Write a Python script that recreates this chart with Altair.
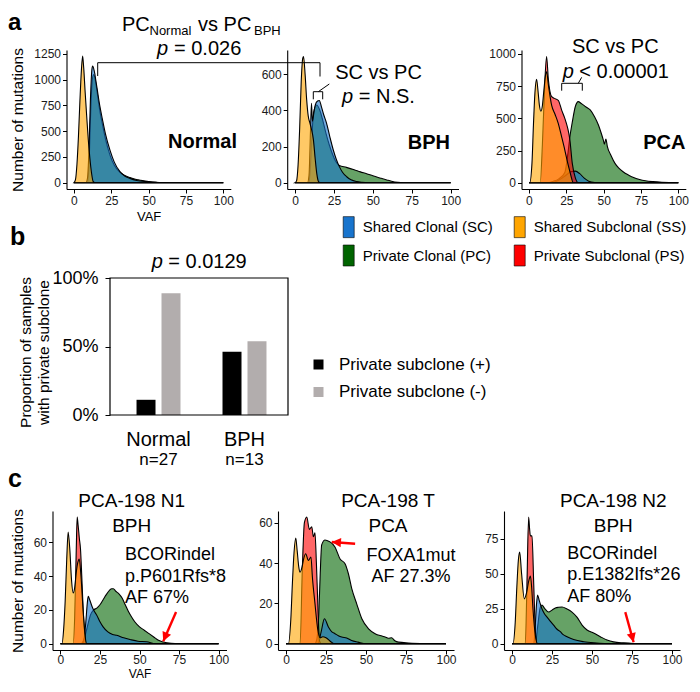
import altair as alt
import pandas as pd

FONT = "Liberation Sans"

# ---------------- shared categories (legend fills column-wise) ----------------
CLONES = ["Shared Clonal (SC)", "Private Clonal (PC)", "Shared Subclonal (SS)", "Private Subclonal (PS)"]
CLONE_COLORS = ["#1874CD", "#006400", "#FFA500", "#FF0000"]
DRAW_ORDER = ["Private Clonal (PC)", "Shared Clonal (SC)", "Private Subclonal (PS)", "Shared Subclonal (SS)"]
SC, PC, SS, PS = CLONES
VAF_TICKS = [0, 25, 50, 75, 100]

# ---------------- panel a : Normal ----------------
NORMAL_SS_VAF = [0, 1, 2, 3, 4, 5, 5.8, 6.5, 7.4, 8.5, 9.6, 10.7, 11.8, 12.9, 14, 100]
NORMAL_SS_N = [0, 30, 180, 450, 800, 1100, 1230, 1120, 900, 650, 415, 230, 90, 10, 0, 0]
NORMAL_SC_VAF = [0, 8, 9, 10, 11, 12, 12.5, 13.5, 15, 17.4, 19, 21, 24.1, 27, 30.8, 34, 37.5, 42, 48.7, 55, 60, 100]
NORMAL_SC_N = [0, 0, 40, 300, 800, 1100, 1133, 1090, 960, 738, 620, 480, 316, 200, 107, 65, 42, 22, 10, 3, 0, 0]
NORMAL_PC_VAF = [0, 9, 10, 11, 12, 13, 14, 15, 17.4, 19, 21, 24.1, 27, 30.8, 34, 37.5, 40, 43, 46, 50, 55, 60, 70, 100]
NORMAL_PC_N = [0, 0, 150, 600, 950, 1050, 1020, 930, 690, 570, 430, 268, 170, 100, 70, 50, 38, 28, 20, 12, 5, 2, 0, 0]

# ---------------- panel a : BPH ----------------
BPH_SS_VAF = [0, 1, 2, 3, 4, 5, 5.5, 6.5, 7.5, 8.5, 9.6, 10.5, 11.8, 13, 14, 15, 16, 100]
BPH_SS_N = [0, 10, 100, 300, 560, 690, 698, 600, 460, 370, 330, 300, 240, 130, 50, 8, 0, 0]
BPH_SC_VAF = [0, 8, 9, 10, 10.6, 11.2, 12, 13, 14.5, 15.6, 17, 18.5, 20.3, 22.5, 24.6, 26.5, 28.5, 30.5, 33.2, 36, 39.6, 43, 47, 100]
BPH_SC_N = [0, 0, 40, 300, 440, 340, 380, 430, 452, 455, 420, 375, 329, 250, 181, 130, 89, 58, 33, 16, 6, 2, 0, 0]
BPH_PC_VAF = [0, 9, 10, 11, 12, 13.9, 16, 18, 20, 22, 24, 26, 28.5, 33, 38, 42, 46, 50, 55, 59, 62, 66, 70, 100]
BPH_PC_N = [0, 0, 100, 280, 390, 430, 400, 340, 270, 210, 160, 120, 95, 85, 72, 60, 50, 38, 25, 15, 8, 2, 0, 0]

# ---------------- panel a : PCA ----------------
PCA_SS_VAF = [0, 0.5, 2, 3, 4, 5.1, 6, 7, 8, 9, 10, 11, 11.8, 13, 15.2, 17.5, 19.6, 22, 24, 26, 27.4, 28.5, 29.6, 100]
PCA_SS_N = [0, 0, 150, 450, 700, 803, 720, 600, 555, 600, 720, 830, 862, 760, 600, 530, 461, 350, 254, 150, 86, 35, 0, 0]
PCA_PS_VAF = [0, 7.5, 9, 10.5, 11.8, 13, 15.2, 17, 19.6, 22, 24, 26, 27.4, 29, 31, 33, 100]
PCA_PS_N = [0, 0, 300, 750, 980, 800, 668, 655, 640, 560, 500, 420, 332, 150, 40, 0, 0]
PCA_SC_VAF = [0, 15, 20, 25, 28, 31, 34, 37, 40, 44, 48, 100]
PCA_SC_N = [0, 0, 20, 60, 85, 90, 70, 35, 12, 2, 0, 0]
PCA_PC_VAF = [0, 12, 16, 20, 24, 26, 27.4, 29, 31, 33, 35, 38, 41, 44, 46.5, 48.5, 49.8, 50.5, 51.5, 52.5,
              55, 57.6, 60, 63, 66.5, 70, 74, 78, 83, 89, 95, 100]
PCA_PC_N = [0, 0, 10, 30, 80, 220, 357, 470, 590, 630, 615, 590, 565, 510, 448, 380, 330, 300, 340, 280,
            210, 150, 115, 85, 60, 40, 25, 15, 8, 3, 1, 0]

# ---------------- panel b ----------------
B_GROUP = ["Normal", "Normal", "BPH", "BPH"]
B_STATUS = ["Private subclone (+)", "Private subclone (-)", "Private subclone (+)", "Private subclone (-)"]
B_PROP = [0.111, 0.889, 0.462, 0.538]
B_GROUP_ORDER = ["Normal", "BPH"]
B_STATUS_ORDER = ["Private subclone (+)", "Private subclone (-)"]
B_STATUS_COLORS = ["#000000", "#B2ADAD"]
B_N_GROUP = ["Normal", "BPH"]
B_N_TEXT = ["n=27", "n=13"]

# ---------------- panel c : PCA-198 N1 ----------------
N1_SS_VAF = [0, 1, 2, 3, 4, 4.9, 6, 7, 8.1, 9, 10, 11, 11.9, 13, 14.4, 15.5, 16.5, 100]
N1_SS_N = [0, 0, 8, 25, 50, 66, 55, 38, 30, 33, 42, 48, 50, 40, 19, 6, 0, 0]
N1_PS_VAF = [0, 8, 9, 10, 10.6, 11.2, 12, 12.7, 13.5, 14.4, 15.5, 16.5, 100]
N1_PS_N = [0, 0, 15, 55, 74.8, 70, 62, 56, 40, 20, 5, 0, 0]
N1_SC_VAF = [0, 14, 15, 16, 17, 17.6, 18.5, 20, 21.5, 22.9, 25, 27, 30, 33, 35.6, 40, 44, 49, 54.6, 60, 100]
N1_SC_N = [0, 0, 3, 12, 24, 28, 26, 22, 19, 17, 13, 10, 7, 5.5, 5, 3.5, 2.5, 1.5, 1.2, 0, 0]
N1_PC_VAF = [0, 13, 15, 17, 19, 21, 23, 25, 27, 29, 31, 32.4, 33.5, 35, 37, 39, 41, 43, 45, 47, 50, 53, 56,
             59, 62, 65, 70, 80, 100]
N1_PC_N = [0, 0, 3, 10, 17, 20, 21, 23, 26, 29, 31.5, 32.5, 32.5, 31, 29.5, 27, 23, 19, 15.8, 13, 10, 8, 6,
           4, 2, 1, 0.3, 0, 0]
N1_ARROW = {"tail_vaf": [73.1], "tail_n": [18.7], "head_vaf": [65], "head_n": [1.4], "angle": [203]}

# ---------------- panel c : PCA-198 T ----------------
T_SS_VAF = [0, 1.5, 3, 4, 5, 6.1, 7, 8, 8.8, 10, 11, 12.3, 14, 15.6, 16.5, 18.1, 19.8, 21.3, 23, 25, 28, 30, 100]
T_SS_N = [0, 0, 12, 30, 45, 52.4, 46, 38, 35.5, 38, 42, 44.6, 41.3, 43, 33, 20, 7.4, 3, 3.5, 3, 1, 0, 0]
T_PS_VAF = [0, 8.8, 10.2, 11.5, 13, 14.6, 16.1, 17.1, 18.1, 19, 19.8, 20.9, 22, 100]
T_PS_N = [0, 0, 37, 60, 62.8, 56.7, 58, 53, 55, 40, 21.7, 1.5, 0, 0]
T_SC_VAF = [0, 20, 22, 24, 26.5, 28.5, 30.6, 32.7, 34.8, 37.9, 41, 45, 50, 100]
T_SC_N = [0, 0, 6, 12.4, 8.3, 6, 5, 4, 3.3, 2.8, 1.6, 0.8, 0, 0]
T_PC_VAF = [0, 18, 19.2, 20.5, 21.4, 22.3, 24.4, 26, 27.5, 30.6, 33.8, 36.9, 39, 41.1, 44.2, 47.4, 51.6,
            55.7, 60, 62, 64, 66, 68, 70.3, 76.6, 87, 100]
T_PC_N = [0, 0, 2, 15, 35, 49, 51.4, 51, 50.5, 48, 42, 39.7, 34.7, 27.3, 19.8, 12.4, 7.4, 5, 3.8, 3.3,
          2.7, 3, 1.5, 0.8, 0.4, 0.1, 0]
T_ARROW = {"tail_vaf": [43.2], "tail_n": [49.6], "head_vaf": [28.6], "head_n": [50.4], "angle": [274]}

# ---------------- panel c : PCA-198 N2 ----------------
N2_SS_VAF = [0, 0.6, 2, 3, 4, 4.8, 6, 7.7, 9, 10.5, 11.5, 12.3, 13.1, 14.6, 16, 100]
N2_SS_N = [0, 0, 15, 40, 60, 65.5, 50, 32, 36, 45, 48.3, 40, 25, 6, 0, 0]
N2_PS_VAF = [0, 8.3, 9.3, 10.4, 11, 11.5, 12.5, 13.6, 14.6, 15.8, 100]
N2_PS_N = [0, 0, 40, 90.5, 82, 77, 77, 42, 9, 0, 0]
N2_SC_VAF = [0, 13.6, 14.5, 15.3, 16, 17, 18.7, 20, 21.9, 24, 26, 28, 30.2, 32, 34.4, 38.5, 44.8, 53, 60, 100]
N2_SC_N = [0, 0, 12, 28, 34.8, 31, 25, 22, 19, 16, 13.3, 10.5, 8.6, 6.5, 5, 3, 1.4, 0.5, 0, 0]
N2_PC_VAF = [0, 14.6, 16, 17.7, 18.7, 20.5, 22.9, 25, 27.1, 29, 31.3, 34.4, 37.5, 40.6, 43.8, 46.9, 51, 55.2,
             59.4, 63.5, 69.8, 80, 100]
N2_PC_N = [0, 0, 12, 26, 27.6, 25, 22.6, 24, 25.5, 26, 26.2, 24.8, 22.6, 19, 13.3, 9.8, 7.6, 5, 2.6, 1.3,
           0.6, 0, 0]
N2_ARROW = {"tail_vaf": [70.8], "tail_n": [22.6], "head_vaf": [76], "head_n": [1], "angle": [165]}

# ---------------- layout: page pixels of each plot area ----------------
PAGE = 8                      # page margin; chart origin sits here
TOT_W, TOT_H = 684, 672
A_T, A_H = 50, 139
A1_L, A1_W = 66.5, 164.3
A2_L, A2_W = 287.2, 171.3
A3_L, A3_W = 521.5, 164.3
B_L, B_T, B_W, B_H = 110, 278, 178, 137
C_T, C_H = 511, 139
C1_L, C1_W = 52.5, 174
C2_L, C2_W = 278, 176
C3_L, C3_W = 504, 176

TALL_KEY = "M-0.524,-1H0.524V1H-0.524Z"
ARROW_HEAD = "M0,0L-0.65,1.3L0.65,1.3Z"


def cx(x):
    return x - PAGE


def cy(y):
    return y - PAGE


def txt(s, px, py, size, align="left", weight="normal", style="normal", color="black"):
    return alt.Chart(pd.DataFrame({"label": [s]})).mark_text(
        align=align, baseline="alphabetic", font=FONT, fontSize=size,
        fontWeight=weight, fontStyle=style, color=color
    ).encode(x=alt.value(cx(px)), y=alt.value(cy(py)), text="label:N")


def seg(x1, y1, x2, y2, color="black", width=1.0):
    return alt.Chart(pd.DataFrame({"k": [0]})).mark_rule(color=color, strokeWidth=width).encode(
        x=alt.value(cx(x1)), y=alt.value(cy(y1)), x2=alt.value(cx(x2)), y2=alt.value(cy(y2)))


def density(curves, L, T, W, H, ydom, yticks, ytitle=None, ytitle_x=0, xtitle=None, xtitle_base=0,
            xtitle_size=13, legend=None, arrow=None, xlabel_pad=2):
    rows = []
    for clone, (xs, ys) in curves.items():
        for x, y in zip(xs, ys):
            rows.append({"clone": clone, "vaf": x, "n": y})
    df = pd.DataFrame(rows)
    xs_ = alt.Scale(domain=[-5, 105], range=[cx(L), cx(L + W)], nice=False, zero=False)
    ys_ = alt.Scale(domain=ydom, range=[cy(T + H), cy(T)], nice=False, zero=False)
    cs_ = alt.Scale(domain=CLONES, range=CLONE_COLORS)
    xkw = dict(values=VAF_TICKS, tickSize=4, labelFontSize=12, labelPadding=xlabel_pad, domainWidth=1.1,
               orient="bottom", offset=cy(T + H) - TOT_H)
    if xtitle:
        xaxis = alt.Axis(title=xtitle, titleFontSize=xtitle_size, titleY=xtitle_base - (T + H),
                         titleBaseline="alphabetic", **xkw)
    else:
        xaxis = alt.Axis(title=None, **xkw)
    ykw = dict(values=yticks, format="d", tickSize=4, labelFontSize=12, labelPadding=2, domainWidth=1.1,
               orient="left", offset=-cx(L))
    if ytitle:
        yaxis = alt.Axis(title=ytitle, titleFontSize=15.5, titleX=ytitle_x - L, titleY=cy(T + H / 2),
                         titleAngle=270, titleAlign="center", titleBaseline="middle", **ykw)
    else:
        yaxis = alt.Axis(title=None, **ykw)
    layers = []
    for clone in DRAW_ORDER:
        if clone not in curves:
            continue
        layers.append(
            alt.Chart(df).transform_filter(alt.datum.clone == clone).mark_area(
                interpolate="monotone", fillOpacity=0.6, stroke="black", strokeWidth=1.1
            ).encode(
                x=alt.X("vaf:Q", scale=xs_, axis=xaxis),
                y=alt.Y("n:Q", scale=ys_, axis=yaxis, stack=None),
                color=alt.Color("clone:N", scale=cs_, legend=legend),
            )
        )
    if arrow is not None:
        adf = pd.DataFrame(arrow)
        layers.append(alt.Chart(adf).mark_rule(color="red", strokeWidth=2.4).encode(
            x=alt.X("tail_vaf:Q", scale=xs_, axis=xaxis),
            y=alt.Y("tail_n:Q", scale=ys_, axis=yaxis),
            x2="head_vaf:Q", y2="head_n:Q"))
        layers.append(alt.Chart(adf).mark_point(
            shape=ARROW_HEAD, filled=True, size=200, color="red", opacity=1, strokeWidth=0
        ).encode(
            x=alt.X("head_vaf:Q", scale=xs_, axis=xaxis),
            y=alt.Y("head_n:Q", scale=ys_, axis=yaxis),
            angle=alt.Angle("angle:Q", scale=None)))
    return alt.layer(*layers)


# ---------------- a ----------------
a1 = density({SC: (NORMAL_SC_VAF, NORMAL_SC_N), SS: (NORMAL_SS_VAF, NORMAL_SS_N),
              PC: (NORMAL_PC_VAF, NORMAL_PC_N)},
             A1_L, A_T, A1_W, A_H, [-61.2, 1288.8], [0, 250, 500, 750, 1000, 1250],
             ytitle="Number of mutations", ytitle_x=17.5, xtitle="VAF", xtitle_base=220.7)
a2 = density({SC: (BPH_SC_VAF, BPH_SC_N), SS: (BPH_SS_VAF, BPH_SS_N),
              PC: (BPH_PC_VAF, BPH_PC_N)},
             A2_L, A_T, A2_W, A_H, [-34.9, 734.8], [0, 200, 400, 600])
top_legend = alt.Legend(
    orient="none", legendX=cx(337.7), legendY=cy(216), columns=2, title=None,
    symbolType=TALL_KEY, symbolSize=441, symbolStrokeColor="black", symbolStrokeWidth=0.6,
    symbolOpacity=1, labelFont=FONT, labelFontSize=15,
    labelColor="black", labelOffset=3, rowPadding=4.5, columnPadding=15, padding=0, labelLimit=400,
)
a3 = density({SC: (PCA_SC_VAF, PCA_SC_N), SS: (PCA_SS_VAF, PCA_SS_N),
              PC: (PCA_PC_VAF, PCA_PC_N), PS: (PCA_PS_VAF, PCA_PS_N)},
             A3_L, A_T, A3_W, A_H, [-49, 1031], [0, 250, 500, 750, 1000], legend=top_legend)

a_notes = [
    txt("a", 8, 30, 24, weight="bold"),
    txt("PC", 122, 31, 20),
    txt("Normal", 149.5, 35, 13),
    txt("vs PC", 198, 31, 20),
    txt("BPH", 254, 35, 13),
    txt("p", 157, 55, 20, style="italic"),
    txt("= 0.026", 174, 55, 20),
    seg(97.7, 62.7, 320, 62.7),
    seg(97.7, 62.7, 97.7, 76),
    seg(320, 62.7, 320, 76.5),
    txt("Normal", 237, 148.3, 20, align="right", weight="bold"),
    txt("SC vs PC", 378.5, 79.3, 20, align="center"),
    txt("p", 342, 103.3, 20, style="italic"),
    txt("= N.S.", 358.7, 103.3, 20),
    seg(313.3, 91.7, 322.7, 91.7),
    seg(313.3, 91.7, 313.3, 99.3),
    seg(322.7, 91.7, 322.7, 99.3),
    seg(318.3, 91.7, 329.3, 84),
    txt("BPH", 450, 149.3, 20, align="right", weight="bold"),
    txt("SC vs PC", 615.3, 53.3, 20, align="center"),
    txt("p", 562.7, 78.3, 20, style="italic"),
    txt("< 0.00001", 579.3, 78.3, 20),
    seg(561.7, 83.3, 582.3, 83.3),
    seg(561.7, 83.3, 561.7, 90.7),
    seg(582.3, 83.3, 582.3, 90.7),
    seg(578.3, 83.3, 581.7, 77.3),
    txt("PCA", 685.5, 149.3, 20, align="right", weight="bold"),
]

# ---------------- b ----------------
bdf = pd.DataFrame({"group": B_GROUP, "status": B_STATUS, "prop": B_PROP})
ndf = pd.DataFrame({"group": B_N_GROUP, "nlab": B_N_TEXT})
bx_scale = alt.Scale(range=[cx(B_L + 2.5), cx(B_L + B_W + 2.5)], paddingInner=0.477, paddingOuter=0.2735)
bx_axis = alt.Axis(title=None, labelAngle=0, labelFontSize=20, ticks=False, domain=False,
                   labelPadding=14, labelColor="black", orient="bottom",
                   offset=cy(B_T + B_H) - TOT_H)
by_axis = alt.Axis(values=[0, 0.5, 1], format="%", labelFontSize=18, tickSize=5, labelPadding=7,
                   domain=False, title=["Proportion of samples", "with private subclone"],
                   titleFontSize=15.5, titleLineHeight=18.5, titleX=25 - B_L, titleY=cy(352),
                   titleAngle=270, titleAlign="center", titleBaseline="middle",
                   orient="left", offset=-cx(B_L), labelColor="black")
bars = alt.Chart(bdf).mark_bar().encode(
    x=alt.X("group:N", sort=B_GROUP_ORDER, scale=bx_scale, axis=bx_axis),
    xOffset=alt.XOffset("status:N", sort=B_STATUS_ORDER,
                        scale=alt.Scale(paddingInner=0.24, paddingOuter=0.02)),
    y=alt.Y("prop:Q", scale=alt.Scale(domain=[0, 1], nice=False, range=[cy(B_T + B_H), cy(B_T)]),
            axis=by_axis),
    color=alt.Color("status:N", scale=alt.Scale(domain=B_STATUS_ORDER, range=B_STATUS_COLORS),
                    legend=alt.Legend(orient="none", legendX=cx(310), legendY=cy(356), title=None,
                                      symbolType="square", symbolSize=100, symbolStrokeWidth=0,
                                      symbolOpacity=1, labelFont=FONT, labelFontSize=17,
                                      labelColor="black", labelOffset=12, rowPadding=9.5,
                                      padding=0, labelLimit=400)),
)
nlabels = alt.Chart(ndf).mark_text(font=FONT, fontSize=17, baseline="alphabetic", color="black").encode(
    x=alt.X("group:N", sort=B_GROUP_ORDER, scale=bx_scale, axis=bx_axis),
    y=alt.value(cy(465)), text="nlab:N")
b = alt.layer(bars, nlabels)
b_frame = alt.Chart(pd.DataFrame({"k": [0]})).mark_rect(
    filled=False, stroke="black", strokeWidth=1.2
).encode(x=alt.value(cx(B_L)), x2=alt.value(cx(B_L + B_W)), y=alt.value(cy(B_T)), y2=alt.value(cy(B_T + B_H)))
b_notes = [
    b_frame,
    txt("b", 10, 245, 25, weight="bold"),
    txt("p", 151.7, 268.3, 20, style="italic"),
    txt("= 0.0129", 168.3, 268.3, 20),
]

# ---------------- c ----------------
c1 = density({SC: (N1_SC_VAF, N1_SC_N), SS: (N1_SS_VAF, N1_SS_N),
              PC: (N1_PC_VAF, N1_PC_N), PS: (N1_PS_VAF, N1_PS_N)},
             C1_L, C_T, C1_W, C_H, [-3.7, 78.4], [0, 20, 40, 60],
             ytitle="Number of mutations", ytitle_x=17, xtitle="VAF", xtitle_base=677,
             xtitle_size=12, arrow=N1_ARROW, xlabel_pad=0)
c2 = density({SC: (T_SC_VAF, T_SC_N), SS: (T_SS_VAF, T_SS_N),
              PC: (T_PC_VAF, T_PC_N), PS: (T_PS_VAF, T_PS_N)},
             C2_L, C_T, C2_W, C_H, [-3.1, 65.8], [0, 20, 40, 60], arrow=T_ARROW, xlabel_pad=0)
c3 = density({SC: (N2_SC_VAF, N2_SC_N), SS: (N2_SS_VAF, N2_SS_N),
              PC: (N2_PC_VAF, N2_PC_N), PS: (N2_PS_VAF, N2_PS_N)},
             C3_L, C_T, C3_W, C_H, [-4.5, 94.8], [0, 25, 50, 75], arrow=N2_ARROW, xlabel_pad=0)
c_notes = [
    txt("c", 8, 487, 25, weight="bold"),
    txt("PCA-198 N1", 131.7, 507.3, 19, align="center"),
    txt("BPH", 131.7, 531.7, 19, align="center"),
    txt("BCORindel", 125, 560, 18),
    txt("p.P601Rfs*8", 125, 581.7, 18),
    txt("AF 67%", 125, 603, 18),
    txt("PCA-198 T", 388, 507.3, 19, align="center"),
    txt("PCA", 388, 531.7, 19, align="center"),
    txt("FOXA1mut", 411, 561, 18, align="center"),
    txt("AF 27.3%", 411, 581.7, 18, align="center"),
    txt("PCA-198 N2", 613.3, 507.3, 19, align="center"),
    txt("BPH", 613.3, 531.7, 19, align="center"),
    txt("BCORindel", 567.3, 559, 18),
    txt("p.E1382Ifs*26", 567.3, 580, 18),
    txt("AF 80%", 567.3, 601.7, 18),
]

chart = alt.layer(
    a1, a2, a3, b, c1, c2, c3, *a_notes, *b_notes, *c_notes
).resolve_scale(
    x="independent", y="independent", color="independent", xOffset="independent", angle="independent"
).resolve_axis(
    x="independent", y="independent"
).resolve_legend(
    color="independent"
).properties(width=TOT_W, height=TOT_H, padding=0, autosize=alt.AutoSizeParams(type="none"))

chart = chart.configure_view(stroke="transparent").configure_axis(
    grid=False, domainColor="black", tickColor="black", labelColor="#1a1a1a", titleColor="black",
    labelFont=FONT, titleFont=FONT, titleFontWeight="normal"
).configure_legend(labelFont=FONT)

chart.save("out.html", embed_options={"renderer": "svg", "actions": False})
